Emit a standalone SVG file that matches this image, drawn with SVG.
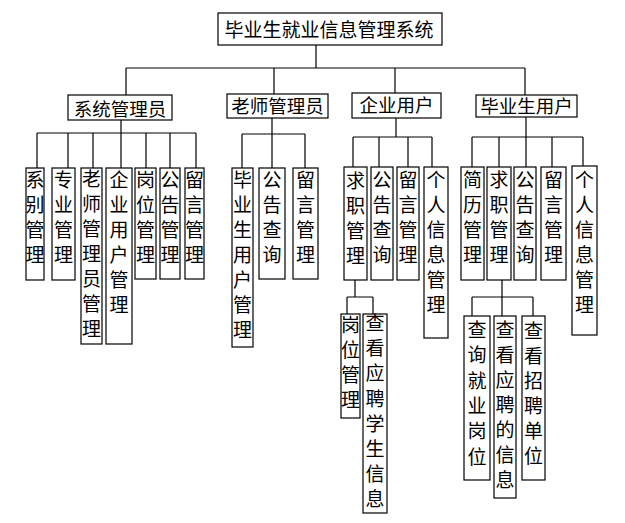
<svg xmlns="http://www.w3.org/2000/svg" width="625" height="523" viewBox="0 0 625 523">
<style>
rect{fill:#fff;stroke:#000;stroke-width:1.2}
text{font-family:"Noto Sans CJK SC","Noto Sans CJK JP",sans-serif;fill:#000;text-anchor:middle}
.t{font-size:19px}
.h{font-size:18.5px}
.v{font-size:19px}
#connectors path{fill:none;stroke:#000;stroke-width:1.2}
</style>
<rect x="0" y="0" width="625" height="523" style="fill:#fff;stroke:none"/>
<g id="connectors">
<path d="M316 45V68M126 68H525M126 68V95M274 68V94M395 68V93M525 68V95"/>
<path d="M121 120V133M37 133H196M37 133V168M68 133V168M93 133V168M121 133V168M146 133V168M170 133V168M196 133V168"/>
<path d="M272 118V134M242 134H305M242 134V168M272 134V168M305 134V168"/>
<path d="M396 118V137M353 137H432M353 137V167M379 137V167M408 137V167M432 137V167"/>
<path d="M526 117V137M472 137H583M472 137V167M499 137V167M526 137V167M552 137V167M583 137V166"/>
<path d="M355 280V297M347 297H373M347 297V314M373 297V314"/>
<path d="M502 280V297M472 297H533M472 297V316M502 297V316M533 297V316"/>
</g>
<g id="root"><rect x="218" y="13" width="224" height="32"/><text class="t" x="329" y="36.5">毕业生就业信息管理系统</text></g>
<g id="sysadmin"><rect x="68" y="95" width="104" height="25"/><text class="h" x="120" y="116">系统管理员</text></g>
<g id="teacher"><rect x="227" y="94" width="101" height="24"/><text class="h" x="277.5" y="113">老师管理员</text></g>
<g id="company"><rect x="352" y="93" width="89" height="25"/><text class="h" x="396.5" y="112">企业用户</text></g>
<g id="graduate"><rect x="476" y="95" width="101" height="22"/><text class="h" x="526.5" y="113">毕业生用户</text></g>

<g id="a1"><rect x="26" y="168" width="18" height="112"/><text class="v"><tspan x="35" y="187">系</tspan><tspan x="35" dy="25">别</tspan><tspan x="35" dy="25">管</tspan><tspan x="35" dy="25">理</tspan></text></g>
<g id="a2"><rect x="52" y="168" width="23" height="112"/><text class="v"><tspan x="63.5" y="187">专</tspan><tspan x="63.5" dy="25">业</tspan><tspan x="63.5" dy="25">管</tspan><tspan x="63.5" dy="25">理</tspan></text></g>
<g id="a3"><rect x="81" y="168" width="21" height="176"/><text class="v"><tspan x="91.5" y="186">老</tspan><tspan x="91.5" dy="25">师</tspan><tspan x="91.5" dy="25">管</tspan><tspan x="91.5" dy="25">理</tspan><tspan x="91.5" dy="25">员</tspan><tspan x="91.5" dy="25">管</tspan><tspan x="91.5" dy="25">理</tspan></text></g>
<g id="a4"><rect x="106" y="168" width="26" height="176"/><text class="v"><tspan x="119" y="187">企</tspan><tspan x="119" dy="25">业</tspan><tspan x="119" dy="25">用</tspan><tspan x="119" dy="25">户</tspan><tspan x="119" dy="25">管</tspan><tspan x="119" dy="25">理</tspan></text></g>
<g id="a5"><rect x="135" y="168" width="21" height="111"/><text class="v"><tspan x="145.5" y="187">岗</tspan><tspan x="145.5" dy="25">位</tspan><tspan x="145.5" dy="25">管</tspan><tspan x="145.5" dy="25">理</tspan></text></g>
<g id="a6"><rect x="160" y="168" width="20" height="111"/><text class="v"><tspan x="170" y="187">公</tspan><tspan x="170" dy="25">告</tspan><tspan x="170" dy="25">管</tspan><tspan x="170" dy="25">理</tspan></text></g>
<g id="a7"><rect x="185" y="168" width="19" height="111"/><text class="v"><tspan x="194.5" y="187">留</tspan><tspan x="194.5" dy="25">言</tspan><tspan x="194.5" dy="25">管</tspan><tspan x="194.5" dy="25">理</tspan></text></g>

<g id="b1"><rect x="232" y="168" width="21" height="179"/><text class="v"><tspan x="242.5" y="187">毕</tspan><tspan x="242.5" dy="25">业</tspan><tspan x="242.5" dy="25">生</tspan><tspan x="242.5" dy="25">用</tspan><tspan x="242.5" dy="25">户</tspan><tspan x="242.5" dy="25">管</tspan><tspan x="242.5" dy="25">理</tspan></text></g>
<g id="b2"><rect x="259" y="168" width="26" height="111"/><text class="v"><tspan x="272" y="187">公</tspan><tspan x="272" dy="25">告</tspan><tspan x="272" dy="25">查</tspan><tspan x="272" dy="25">询</tspan></text></g>
<g id="b3"><rect x="293" y="168" width="25" height="111"/><text class="v"><tspan x="305.5" y="187">留</tspan><tspan x="305.5" dy="25">言</tspan><tspan x="305.5" dy="25">管</tspan><tspan x="305.5" dy="25">理</tspan></text></g>

<g id="c1"><rect x="344" y="167" width="23" height="113"/><text class="v"><tspan x="355.5" y="188">求</tspan><tspan x="355.5" dy="25">职</tspan><tspan x="355.5" dy="25">管</tspan><tspan x="355.5" dy="25">理</tspan></text></g>
<g id="c2"><rect x="371" y="167" width="22" height="113"/><text class="v"><tspan x="382" y="187">公</tspan><tspan x="382" dy="25">告</tspan><tspan x="382" dy="25">查</tspan><tspan x="382" dy="25">询</tspan></text></g>
<g id="c3"><rect x="397" y="167" width="22" height="113"/><text class="v"><tspan x="408" y="187">留</tspan><tspan x="408" dy="25">言</tspan><tspan x="408" dy="25">管</tspan><tspan x="408" dy="25">理</tspan></text></g>
<g id="c4"><rect x="424" y="167" width="24" height="171"/><text class="v"><tspan x="436" y="187">个</tspan><tspan x="436" dy="25">人</tspan><tspan x="436" dy="25">信</tspan><tspan x="436" dy="25">息</tspan><tspan x="436" dy="25">管</tspan><tspan x="436" dy="25">理</tspan></text></g>

<g id="d1"><rect x="461" y="167" width="23" height="113"/><text class="v"><tspan x="472.5" y="187">简</tspan><tspan x="472.5" dy="25">历</tspan><tspan x="472.5" dy="25">管</tspan><tspan x="472.5" dy="25">理</tspan></text></g>
<g id="d2"><rect x="487" y="167" width="24" height="113"/><text class="v"><tspan x="499" y="187">求</tspan><tspan x="499" dy="25">职</tspan><tspan x="499" dy="25">管</tspan><tspan x="499" dy="25">理</tspan></text></g>
<g id="d3"><rect x="514" y="167" width="22" height="113"/><text class="v"><tspan x="525" y="187">公</tspan><tspan x="525" dy="25">告</tspan><tspan x="525" dy="25">查</tspan><tspan x="525" dy="25">询</tspan></text></g>
<g id="d4"><rect x="541" y="167" width="25" height="113"/><text class="v"><tspan x="553.5" y="187">留</tspan><tspan x="553.5" dy="25">言</tspan><tspan x="553.5" dy="25">管</tspan><tspan x="553.5" dy="25">理</tspan></text></g>
<g id="d5"><rect x="572" y="166" width="25" height="169"/><text class="v"><tspan x="584.5" y="187">个</tspan><tspan x="584.5" dy="25">人</tspan><tspan x="584.5" dy="25">信</tspan><tspan x="584.5" dy="25">息</tspan><tspan x="584.5" dy="25">管</tspan><tspan x="584.5" dy="25">理</tspan></text></g>

<g id="e1"><rect x="341" y="314" width="19" height="104"/><text class="v"><tspan x="350.5" y="332">岗</tspan><tspan x="350.5" dy="25">位</tspan><tspan x="350.5" dy="25">管</tspan><tspan x="350.5" dy="25">理</tspan></text></g>
<g id="e2"><rect x="363" y="314" width="24" height="199"/><text class="v"><tspan x="375" y="330">查</tspan><tspan x="375" dy="25.2">看</tspan><tspan x="375" dy="25.2">应</tspan><tspan x="375" dy="25.2">聘</tspan><tspan x="375" dy="25.2">学</tspan><tspan x="375" dy="25.2">生</tspan><tspan x="375" dy="25.2">信</tspan><tspan x="375" dy="25.2">息</tspan></text></g>

<g id="f1"><rect x="464" y="316" width="26" height="164"/><text class="v"><tspan x="477" y="337">查</tspan><tspan x="477" dy="25.3">询</tspan><tspan x="477" dy="25.3">就</tspan><tspan x="477" dy="25.3">业</tspan><tspan x="477" dy="25.3">岗</tspan><tspan x="477" dy="25.3">位</tspan></text></g>
<g id="f2"><rect x="494" y="316" width="22" height="182"/><text class="v"><tspan x="505" y="337">查</tspan><tspan x="505" dy="25">看</tspan><tspan x="505" dy="25">应</tspan><tspan x="505" dy="25">聘</tspan><tspan x="505" dy="25">的</tspan><tspan x="505" dy="25">信</tspan><tspan x="505" dy="25">息</tspan></text></g>
<g id="f3"><rect x="522" y="316" width="23" height="164"/><text class="v"><tspan x="533.5" y="338">查</tspan><tspan x="533.5" dy="25">看</tspan><tspan x="533.5" dy="25">招</tspan><tspan x="533.5" dy="25">聘</tspan><tspan x="533.5" dy="25">单</tspan><tspan x="533.5" dy="25">位</tspan></text></g>
</svg>
